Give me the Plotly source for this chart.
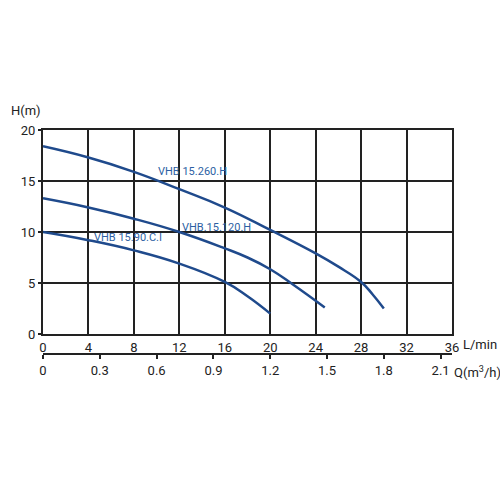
import plotly.graph_objects as go

# data (L/min, m)
flow_260 = [0, 4, 8, 12, 16, 20, 24, 26, 28, 29, 30]
head_260 = [18.4, 17.3, 15.9, 14.2, 12.4, 10.2, 7.9, 6.6, 5.1, 3.9, 2.5]
flow_120 = [0, 4, 8, 12, 16, 18, 20, 22, 24.8]
head_120 = [13.3, 12.4, 11.3, 10.0, 8.4, 7.5, 6.35, 4.85, 2.6]
flow_90 = [0, 4, 8, 12, 16, 18, 20]
head_90 = [10.0, 9.2, 8.2, 6.9, 5.1, 3.7, 2.0]

names = ["VHB 15.260.H", "VHB.15.120.H", "VHB 15.90.C.I"]
label_pos = [(13.2, 15.9), (15.3, 10.4), (7.5, 9.5)]

lpm_ticks = [0, 4, 8, 12, 16, 20, 24, 28, 32, 36]
q_ticks = ["0", "0.3", "0.6", "0.9", "1.2", "1.5", "1.8", "2.1"]
q_tick_lpm = [0, 5, 10, 15, 20, 25, 30, 35]
h_ticks = [0, 5, 10, 15, 20]

FONT = "Roboto, Liberation Sans, sans-serif"
CURVE = "#1f4a8c"
LABEL = "#2d5fa3"
GRID = "#222222"

fig = go.Figure()
for fx, hy in [(flow_260, head_260), (flow_120, head_120), (flow_90, head_90)]:
    fig.add_trace(go.Scatter(x=fx, y=hy, mode="lines",
                             line=dict(color=CURVE, width=2.5, shape="spline", smoothing=1.3),
                             hoverinfo="skip", showlegend=False))
# dummy for secondary axis
fig.add_trace(go.Scatter(x=[0, 36], y=[0, 0], xaxis="x2", mode="lines",
                         opacity=0, hoverinfo="skip", showlegend=False))

for name, (lx, ly) in zip(names, label_pos):
    fig.add_annotation(x=lx, y=ly, text=name, showarrow=False,
                       font=dict(family=FONT, size=11, color=LABEL))

fig.add_annotation(xref="paper", yref="paper", x=-0.042, y=1.089, xanchor="center",
                   yanchor="middle", text="H(m)", showarrow=False,
                   font=dict(family=FONT, size=13, color="#222"))
fig.add_annotation(xref="paper", yref="paper", x=1.022, y=0.0446, xanchor="left",
                   yanchor="middle", text="L/min", showarrow=False,
                   font=dict(family=FONT, size=13, color="#222"))
fig.add_annotation(xref="paper", yref="paper", x=1.0, y=-0.08, xanchor="left",
                   yanchor="middle", text="Q(m<sup>3</sup>/h)", showarrow=False,
                   font=dict(family=FONT, size=13, color="#222"))

fig.update_layout(
    width=500, height=500,
    margin=dict(l=43, r=48, t=130, b=146),
    paper_bgcolor="white", plot_bgcolor="white",
    font=dict(family=FONT, size=13, color="#222"),
    xaxis=dict(range=[0, 36], tickvals=lpm_ticks, showgrid=True, gridcolor=GRID,
               gridwidth=2, showline=True, linecolor=GRID, linewidth=2, mirror=True,
               ticks="", zeroline=False, anchor="y", fixedrange=True),
    xaxis2=dict(range=[0, 36], tickvals=q_tick_lpm, ticktext=q_ticks,
                overlaying="x", anchor="free", position=0, side="bottom",
                showgrid=False, showline=True, linecolor=GRID, linewidth=2,
                ticks="outside", ticklen=4, tickwidth=2, tickcolor=GRID,
                zeroline=False),
    yaxis=dict(range=[0, 20], tickvals=h_ticks, domain=[0.0893, 1], showgrid=True,
               gridcolor=GRID, gridwidth=2, showline=True, linecolor=GRID,
               linewidth=2, mirror=True, ticks="outside", ticklen=3, tickwidth=2,
               tickcolor=GRID, zeroline=False),
)

fig.write_html("out.html")
